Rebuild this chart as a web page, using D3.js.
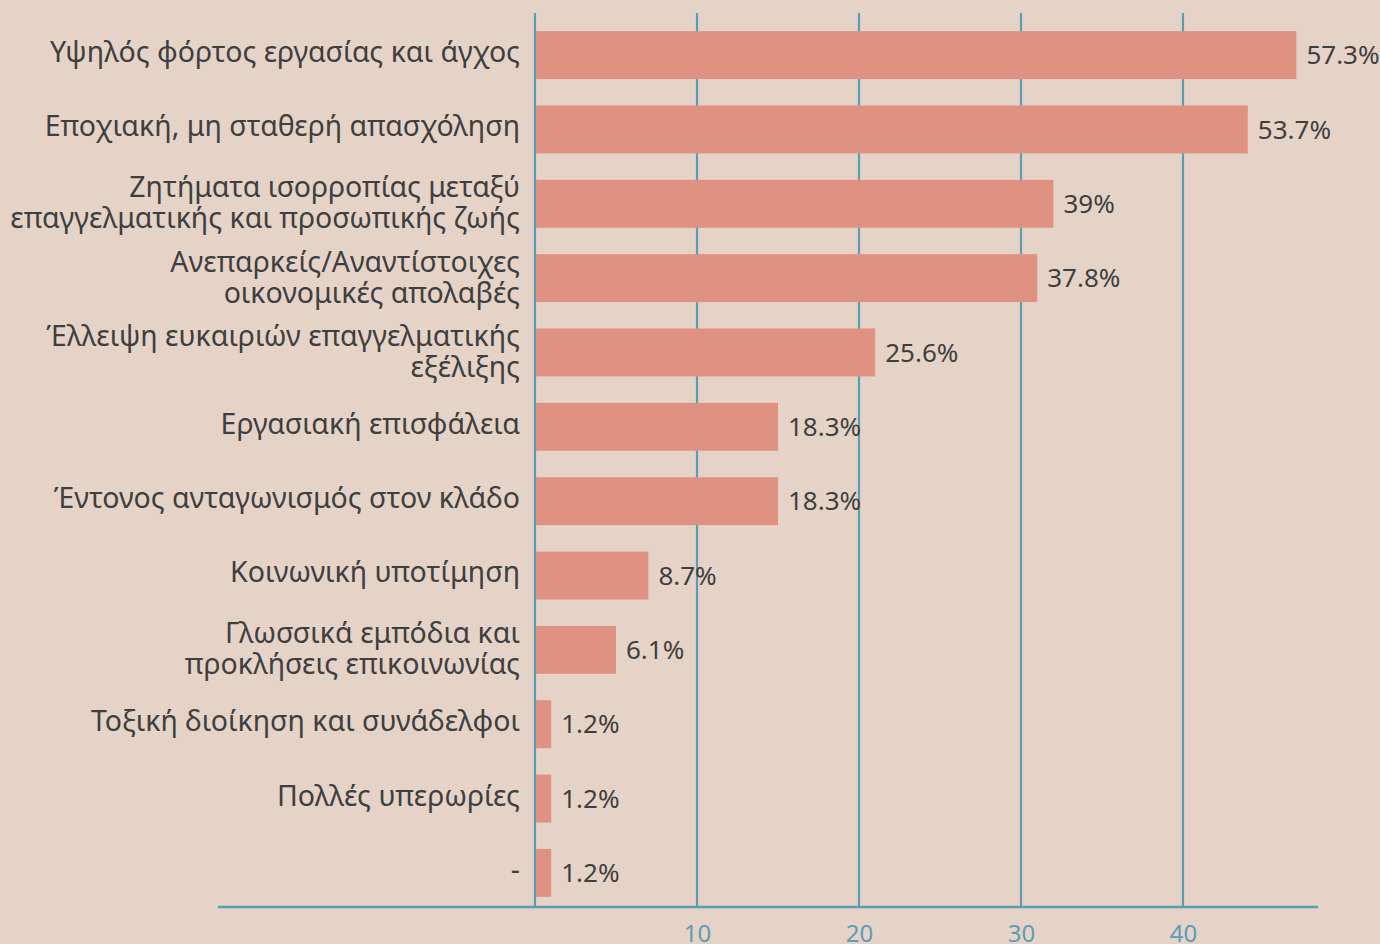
<!DOCTYPE html>
<html><head><meta charset="utf-8">
<script src="https://cdn.jsdelivr.net/npm/d3@7"></script>
<style>html,body{margin:0;padding:0;background:#e6d3c8;overflow:hidden}</style>
</head><body>
<svg id="chart" width="1380" height="944"></svg>
<script>
const categories = [
  ["Υψηλός φόρτος εργασίας και άγχος"],
  ["Εποχιακή, μη σταθερή απασχόληση"],
  ["Ζητήματα ισορροπίας μεταξύ", "επαγγελματικής και προσωπικής ζωής"],
  ["Ανεπαρκείς/Αναντίστοιχες", "οικονομικές απολαβές"],
  ["Έλλειψη ευκαιριών επαγγελματικής", "εξέλιξης"],
  ["Εργασιακή επισφάλεια"],
  ["Έντονος ανταγωνισμός στον κλάδο"],
  ["Κοινωνική υποτίμηση"],
  ["Γλωσσικά εμπόδια και", "προκλήσεις επικοινωνίας"],
  ["Τοξική διοίκηση και συνάδελφοι"],
  ["Πολλές υπερωρίες"],
  ["-"]
];
const counts = [47, 44, 32, 31, 21, 15, 15, 7, 5, 1, 1, 1];
const pctLabels = ["57.3%", "53.7%", "39%", "37.8%", "25.6%", "18.3%", "18.3%", "8.7%", "6.1%", "1.2%", "1.2%", "1.2%"];
const ticks = [10, 20, 30, 40];

const svg = d3.select("#chart");
const FONT = "'Noto Sans', sans-serif";
const teal = "#5b9db5", barCol = "#e09282", txt = "#3f3f3f";

const x = d3.scaleLinear().domain([0, 40]).range([535, 1183]);
const idx = d3.range(categories.length);
const y = d3.scaleBand().domain(idx).range([17, 911]).paddingInner(0.355).paddingOuter(0.19);
const axisY = 907, topY = 13;

// gridlines (including zero)
svg.append("g").selectAll("line").data([0, ...ticks]).join("line")
  .attr("x1", d => x(d)).attr("x2", d => x(d))
  .attr("y1", topY).attr("y2", axisY)
  .attr("stroke", teal).attr("stroke-width", 2.2);

// bars
svg.append("g").selectAll("rect").data(idx).join("rect")
  .attr("x", x(0) + 1).attr("y", i => y(i))
  .attr("width", i => x(counts[i]) - x(0) - 1)
  .attr("height", y.bandwidth())
  .attr("fill", barCol);

// axis
const axis = d3.axisBottom(x).tickValues(ticks).tickSize(0).tickPadding(18);
const ag = svg.append("g").attr("transform", `translate(0,${axisY})`).call(axis);
ag.select(".domain").remove();
ag.selectAll("text").attr("fill", teal).style("font-family", FONT).style("font-size", "24px");
svg.append("line").attr("x1", 218).attr("x2", 1318).attr("y1", axisY).attr("y2", axisY)
  .attr("stroke", teal).attr("stroke-width", 2.6);

// category labels
const lg = svg.append("g");
idx.forEach(i => {
  const lines = categories[i];
  const cy = y(i) + y.bandwidth() / 2;
  const lh = 31;
  const off = lines.length > 1 ? -1 : -3;
  const t = lg.append("text").attr("x", 520).attr("text-anchor", "end")
    .attr("fill", txt).style("font-family", FONT).style("font-size", "28.5px");
  lines.forEach((ln, k) => {
    t.append("tspan").attr("x", 520)
      .attr("y", cy + off + (k - (lines.length - 1) / 2) * lh)
      .attr("dy", "0.35em").text(ln);
  });
});

// value labels
svg.append("g").selectAll("text").data(idx).join("text")
  .attr("x", i => x(counts[i]) + 10)
  .attr("y", i => y(i) + y.bandwidth() / 2)
  .attr("dy", "0.35em")
  .attr("fill", txt).style("font-family", FONT).style("font-size", "26px")
  .text(i => pctLabels[i]);
</script>
</body></html>
